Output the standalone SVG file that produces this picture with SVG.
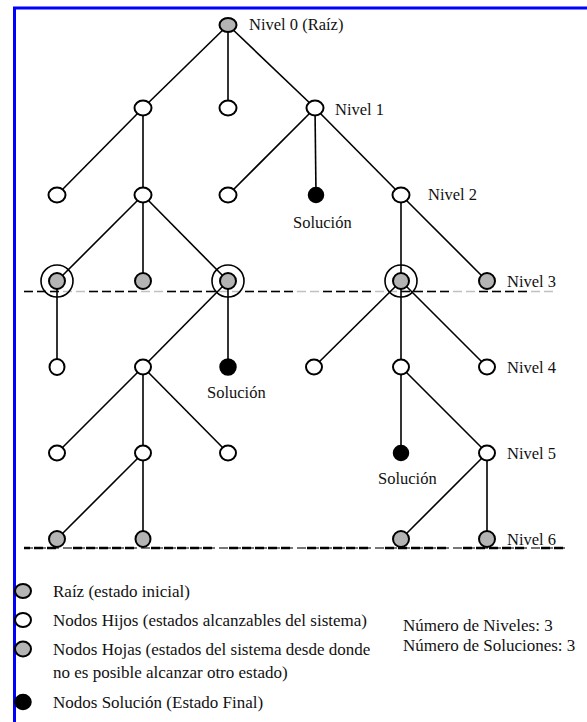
<svg xmlns="http://www.w3.org/2000/svg" width="587" height="722" viewBox="0 0 587 722">
<style>
text{font-family:"Liberation Serif","Times New Roman",serif;fill:#111}
.lbl{font-size:16.5px}
.leg{font-size:17px}
.e{stroke:#000;stroke-width:1.6;fill:none}
.w{fill:#fff;stroke:#000;stroke-width:2}
.g{fill:#b4b4b4;stroke:#000;stroke-width:2}
.b{fill:#000;stroke:#000;stroke-width:1.5}
.ring{fill:none;stroke:#000;stroke-width:1.6}
</style>
<rect width="587" height="722" fill="#fff"/>
<path d="M14.5,722 V8 H587" fill="none" stroke="#0000ff" stroke-width="3"/>
<g id="levels">
<line x1="24" y1="291.5" x2="557" y2="291.5" stroke="#c0c0c0" stroke-width="1.3" stroke-dasharray="9 4"/>
<line x1="24" y1="291.5" x2="557" y2="291.5" stroke="#000" stroke-width="1.3" stroke-dasharray="9 4 9 4 9 4 0 13 0 13 9 4" />
<line x1="24" y1="548" x2="565" y2="548" stroke="#777" stroke-width="2" stroke-dasharray="9 4"/>
<line x1="24" y1="548" x2="565" y2="548" stroke="#000" stroke-width="2.5" stroke-dasharray="9 4 9 4 9 4 0 13 9 4 9 4" stroke-dashoffset="3"/>
</g>
<g id="connectors">
<line class="e" x1="228" y1="25" x2="143" y2="108"/>
<line class="e" x1="228" y1="25" x2="228" y2="108"/>
<line class="e" x1="228" y1="25" x2="315" y2="108"/>
<line class="e" x1="143" y1="108" x2="57" y2="195"/>
<line class="e" x1="143" y1="108" x2="143" y2="195"/>
<line class="e" x1="315" y1="108" x2="228" y2="195"/>
<line class="e" x1="315" y1="108" x2="316" y2="195"/>
<line class="e" x1="315" y1="108" x2="401" y2="195"/>
<line class="e" x1="143" y1="195" x2="57" y2="281"/>
<line class="e" x1="143" y1="195" x2="143" y2="281"/>
<line class="e" x1="143" y1="195" x2="228" y2="281"/>
<line class="e" x1="401" y1="195" x2="401" y2="281"/>
<line class="e" x1="401" y1="195" x2="487" y2="281"/>
<line class="e" x1="57" y1="281" x2="57" y2="367"/>
<line class="e" x1="228" y1="281" x2="143" y2="367"/>
<line class="e" x1="228" y1="281" x2="228" y2="367"/>
<line class="e" x1="401" y1="281" x2="314" y2="367"/>
<line class="e" x1="401" y1="281" x2="401" y2="367"/>
<line class="e" x1="401" y1="281" x2="487" y2="367"/>
<line class="e" x1="143" y1="367" x2="57" y2="453"/>
<line class="e" x1="143" y1="367" x2="143" y2="453"/>
<line class="e" x1="143" y1="367" x2="228" y2="453"/>
<line class="e" x1="401" y1="367" x2="401" y2="453"/>
<line class="e" x1="401" y1="367" x2="487" y2="453"/>
<line class="e" x1="143" y1="453" x2="57" y2="539"/>
<line class="e" x1="143" y1="453" x2="143" y2="539"/>
<line class="e" x1="487" y1="453" x2="401" y2="539"/>
<line class="e" x1="487" y1="453" x2="487" y2="539"/>
</g>
<g id="n0"><ellipse class="g" cx="228" cy="25" rx="8.5" ry="7"/><text class="lbl" x="249" y="30">Nivel 0 (Raíz)</text></g>
<g id="n1a"><ellipse class="w" cx="143" cy="108" rx="8.5" ry="7.5"/></g>
<g id="n1b"><ellipse class="w" cx="228" cy="108" rx="8.5" ry="7.5"/></g>
<g id="n1c"><ellipse class="w" cx="315" cy="108" rx="8.5" ry="7.5"/><text class="lbl" x="335" y="115">Nivel 1</text></g>
<g id="n2a"><ellipse class="w" cx="57" cy="195" rx="8.5" ry="7.5"/></g>
<g id="n2b"><ellipse class="w" cx="143" cy="195" rx="8.5" ry="7.5"/></g>
<g id="n2c"><ellipse class="w" cx="228" cy="195" rx="8.5" ry="7.5"/></g>
<g id="n2d"><ellipse class="b" cx="316" cy="195" rx="7.5" ry="7.5"/><text class="lbl" x="293" y="228">Solución</text></g>
<g id="n2e"><ellipse class="w" cx="401" cy="195" rx="8.5" ry="7.5"/><text class="lbl" x="428" y="200">Nivel 2</text></g>
<g id="n3a"><circle class="ring" cx="57" cy="281" r="16"/><ellipse class="g" cx="57" cy="281" rx="8" ry="8"/></g>
<g id="n3b"><ellipse class="g" cx="143" cy="281" rx="8" ry="8"/></g>
<g id="n3c"><circle class="ring" cx="228" cy="281" r="16"/><ellipse class="g" cx="228" cy="281" rx="8" ry="8"/></g>
<g id="n3d"><circle class="ring" cx="401" cy="281" r="16"/><ellipse class="g" cx="401" cy="281" rx="8" ry="8"/></g>
<g id="n3e"><ellipse class="g" cx="487" cy="281" rx="8" ry="8"/><text class="lbl" x="507" y="287">Nivel 3</text></g>
<g id="n4a"><ellipse class="w" cx="57" cy="367" rx="7.5" ry="8"/></g>
<g id="n4b"><ellipse class="w" cx="143" cy="367" rx="8" ry="7.5"/></g>
<g id="n4c"><ellipse class="b" cx="228" cy="367" rx="8" ry="8"/><text class="lbl" x="207" y="398">Solución</text></g>
<g id="n4d"><ellipse class="w" cx="314" cy="367" rx="8" ry="7.5"/></g>
<g id="n4e"><ellipse class="w" cx="401" cy="367" rx="8" ry="7.5"/></g>
<g id="n4f"><ellipse class="w" cx="487" cy="367" rx="8" ry="7.5"/><text class="lbl" x="507" y="373">Nivel 4</text></g>
<g id="n5a"><ellipse class="w" cx="57" cy="453" rx="8" ry="7.5"/></g>
<g id="n5b"><ellipse class="w" cx="143" cy="453" rx="8" ry="7.5"/></g>
<g id="n5c"><ellipse class="w" cx="228" cy="453" rx="8" ry="7.5"/></g>
<g id="n5d"><ellipse class="b" cx="401" cy="453" rx="7.5" ry="7.5"/><text class="lbl" x="378" y="484">Solución</text></g>
<g id="n5e"><ellipse class="w" cx="487" cy="453" rx="8" ry="7.5"/><text class="lbl" x="507" y="459">Nivel 5</text></g>
<g id="n6a"><ellipse class="g" cx="57" cy="539" rx="8" ry="8"/></g>
<g id="n6b"><ellipse class="g" cx="143" cy="539" rx="7.5" ry="8"/></g>
<g id="n6c"><ellipse class="g" cx="401" cy="539" rx="8" ry="8"/></g>
<g id="n6d"><ellipse class="g" cx="487" cy="539" rx="8" ry="8"/><text class="lbl" x="507" y="545">Nivel 6</text></g>
<g id="legend">
<ellipse class="g" cx="23" cy="591" rx="8" ry="7"/>
<text class="leg" x="53" y="597">Raíz (estado inicial)</text>
<ellipse class="w" cx="23" cy="620" rx="8" ry="7"/>
<text class="leg" x="53" y="626">Nodos Hijos (estados alcanzables del sistema)</text>
<ellipse class="g" cx="23" cy="649" rx="8" ry="7.5"/>
<text class="leg" x="53" y="655">Nodos Hojas (estados del sistema desde donde</text>
<text class="leg" x="53" y="678">no es posible alcanzar otro estado)</text>
<ellipse class="b" cx="23" cy="702" rx="8" ry="7.5"/>
<text class="leg" x="53" y="708">Nodos Solución (Estado Final)</text>
<text class="leg" x="403" y="631">Número de Niveles: 3</text>
<text class="leg" x="403" y="651">Número de Soluciones: 3</text>
</g>
</svg>
